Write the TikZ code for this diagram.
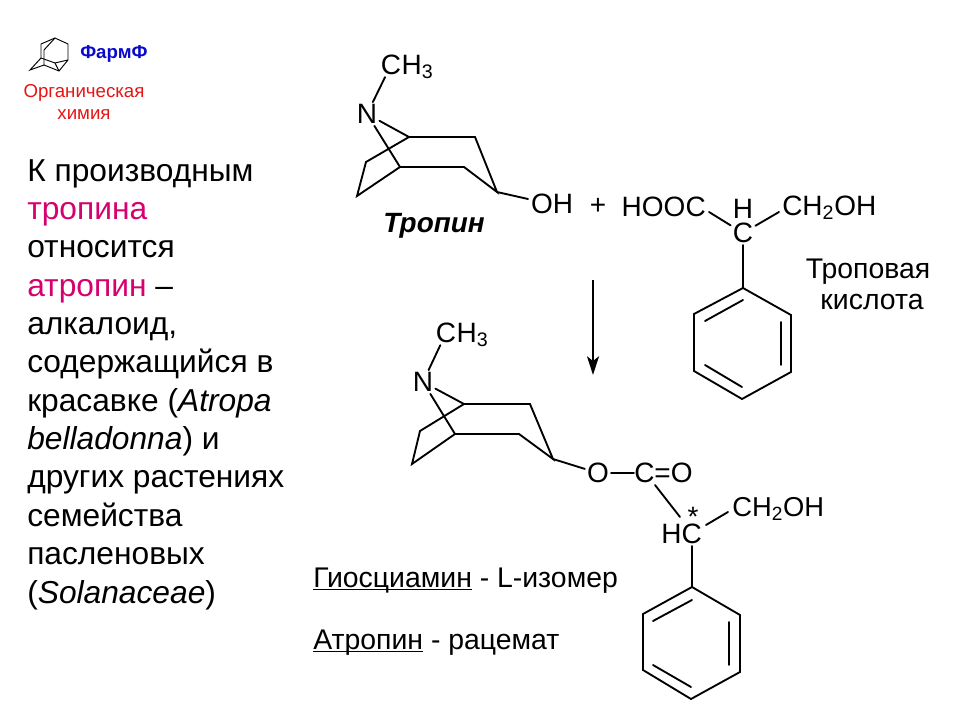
\documentclass[tikz,border=0pt]{standalone}
\usepackage{fontspec}
\setmainfont{Liberation Sans}
\usetikzlibrary{arrows.meta}
\definecolor{tropinered}{RGB}{214,0,110}
\definecolor{logored}{RGB}{230,20,20}
\definecolor{logoblue}{RGB}{10,10,205}
\tikzset{
  atom/.style={inner sep=1.5pt,font=\fontsize{21}{24}\selectfont},
  label/.style={inner sep=0pt,font=\fontsize{21.3}{24}\selectfont},
  caption/.style={anchor=base west,inner sep=0pt,font=\fontsize{21.3}{24}\selectfont},
  logotext/.style={inner sep=0pt,text=logored,font=\fontsize{14}{16}\selectfont},
  bond/.style={line width=1.4pt,line cap=round,line join=miter},
  thinbond/.style={line width=0.7pt}
}
\begin{document}
\begin{tikzpicture}[x=0.75pt,y=-0.75pt]
\useasboundingbox (0,0) rectangle (960,720);

% Marking the logo
\foreach \name/\x/\y in {la/41/44,lb/55/38,lc/68/44,ld/68/60,le/59/71,lf/44/65,lg/30/70,lh/41/58,li/44/50,lj/55/63}
  \coordinate (\name) at (\x,\y);
\draw [thinbond] (la) -- (lb) -- (lc) -- (ld) -- (le) -- (lf) -- (lg) -- (lh) -- (la);
\draw [thinbond] (lb) -- (li) -- (lf);
\draw [thinbond] (lh) -- (lj) -- (ld);
\draw [thinbond] (lj) -- (le);
\node [inner sep=0pt,anchor=west,text=logoblue,font=\fontsize{14}{16}\selectfont\bfseries] (farm) at (80,54) {ФармФ};
\node [logotext] (orgchem) at (84,93) {Органическая};
\node [logotext] (chem) at (84,115) {химия};

% Marking the text on the left
\node [inner sep=0pt,anchor=north west,align=left,font=\fontsize{23.8}{28.77}\selectfont] (intro) at (27,159) {%
К производным\\
\textcolor{tropinered}{тропина}\\
относится\\
\textcolor{tropinered}{атропин} –\\
алкалоид,\\
содержащийся в\\
красавке (\textit{Atropa}\\
\textit{belladonna}) и\\
других растениях\\
семейства\\
пасленовых\\
(\textit{Solanaceae})};

% Drawing tropine
\node [atom] (Na) at (367,114) {N};
\node [atom] (Ca) at (391,65) {C};
\node [atom,anchor=base west,inner sep=0pt,xshift=-1.5pt] (Ha) at (Ca.base east) {H\textsubscript{3}};
\node [atom] (OHa) at (552,204) {OH};
\foreach \name/\x/\y in {a1/409/137,a2/475/137,a3/497/192,a4/464/167,a5/400/167,a6/366/162,a7/357/196,a8/528/199}
  \coordinate (\name) at (\x,\y);
\draw [bond] (Na) -- (Ca);
\draw [bond] (Na) -- (a1) -- (a2) -- (a3) -- (a4) -- (a5);
\draw [bond] (Na) -- (a5) -- (a7) -- (a6) -- (a1);
\draw [bond] (a3) -- (a8);
\node [inner sep=0pt,font=\fontsize{20.9}{24}\selectfont\bfseries\itshape] (tropine) at (434,226) {Тропин};

% Drawing tropic acid
\node [atom] (plus) at (598,206) {+};
\node [atom,anchor=east,inner sep=0pt] (HOOC) at (706,207) {HOOC};
\node [atom] (Hb) at (743,209) {H};
\node [atom] (Cb) at (743,233) {C};
\node [atom,anchor=west,inner sep=0pt] (CHb) at (782,208) {CH\textsubscript{2}OH};
\coordinate (b1) at (709,212);
\coordinate (b2) at (779,212);
\draw [bond] (b1) -- (Cb);
\draw [bond] (b2) -- (Cb);
\foreach \name/\x/\y in {r1/743/288,r2/791/315,r3/791/372,r4/742/399,r5/694/371,r6/694/314,ra/705/321,rb/743/300,rc/781/322,rd/781/365,re/705/365,rf/742/387}
  \coordinate (\name) at (\x,\y);
\draw [bond] (Cb) -- (r1);
\draw [bond] (r1) -- (r2) -- (r3) -- (r4) -- (r5) -- (r6) -- cycle;
\draw [bond] (ra) -- (rb);
\draw [bond] (rc) -- (rd);
\draw [bond] (re) -- (rf);
\node [label] (tropic) at (868,272) {Троповая};
\node [label] (acid) at (872,302) {кислота};

% Drawing the arrow
\coordinate (arrowtop) at (593,280);
\coordinate (arrowend) at (593,375);
\draw [line width=1.3pt,-{Stealth[length=14pt,width=9pt,inset=3.5pt]}] (arrowtop) -- (arrowend);

% Drawing atropine
\node [atom] (Nc) at (423,382) {N};
\node [atom] (Cc) at (446,333) {C};
\node [atom,anchor=base west,inner sep=0pt,xshift=-1.5pt] (Hc) at (Cc.base east) {H\textsubscript{3}};
\foreach \name/\x/\y in {c1/464/404,c2/530/404,c3/553/459,c4/519/434,c5/455/434,c6/420/431,c7/412/464}
  \coordinate (\name) at (\x,\y);
\draw [bond] (Nc) -- (Cc);
\draw [bond] (Nc) -- (c1) -- (c2) -- (c3) -- (c4) -- (c5);
\draw [bond] (Nc) -- (c5) -- (c7) -- (c6) -- (c1);
\node [atom] (Od) at (598,473) {O};
\node [atom,anchor=west,inner sep=0pt] (COd) at (634,473) {C=O};
\draw [bond] (c3) -- (Od);
\draw [bond] (Od) -- (COd);
\node [atom,anchor=east,inner sep=0pt] (HCd) at (702,534) {HC};
\node [atom,inner sep=0pt] (star) at (693,517) {*};
\node [atom,anchor=west,inner sep=0pt,font=\fontsize{20.5}{24}\selectfont] (CHd) at (732,509) {CH\textsubscript{2}OH};
\coordinate (d1) at (655,485);
\coordinate (d2) at (680,517);
\coordinate (d3) at (706,525);
\coordinate (d4) at (728,512);
\coordinate (d5) at (692,546);
\draw [bond] (d1) -- (d2);
\draw [bond] (d3) -- (d4);
\foreach \name/\x/\y in {s1/692/587,s2/740/615,s3/740/672,s4/691/699,s5/643/670,s6/643/614,sa/653/621,sb/692/600,sc/729/622,sd/729/665,se/653/665,sf/691/687}
  \coordinate (\name) at (\x,\y);
\draw [bond] (d5) -- (s1);
\draw [bond] (s1) -- (s2) -- (s3) -- (s4) -- (s5) -- (s6) -- cycle;
\draw [bond] (sa) -- (sb);
\draw [bond] (sc) -- (sd);
\draw [bond] (se) -- (sf);

% Marking the captions
\node [caption] (hyos) at (313,587) {\underline{\smash{Гиосциамин}} - L-изомер};
\node [caption] (atrop) at (313,649) {\underline{\smash{Атропин}} - рацемат};
\end{tikzpicture}
\end{document}
